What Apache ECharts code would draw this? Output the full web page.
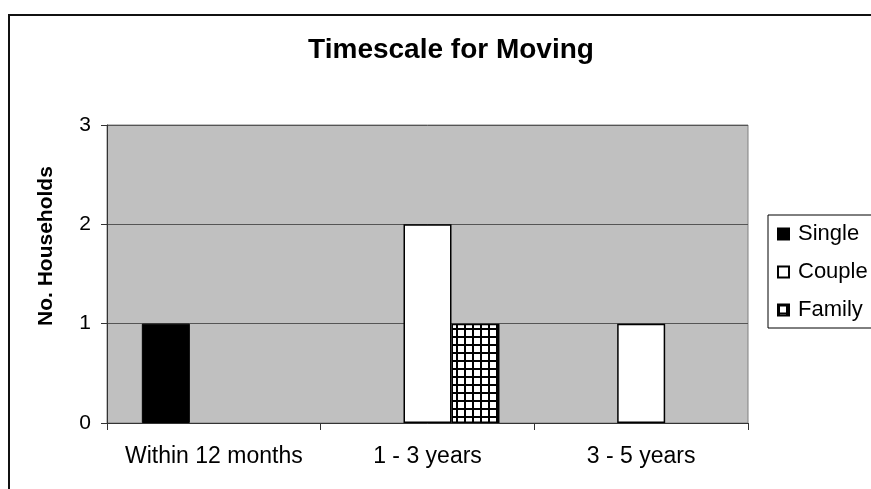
<!DOCTYPE html>
<html>
<head>
<meta charset="utf-8">
<script src="https://cdn.jsdelivr.net/npm/echarts@6/dist/echarts.min.js"></script>
<style>
    html, body { margin: 0; padding: 0; background: #fff; }
    #chart { width: 871px; height: 489px; }
</style>
</head>
<body>
<div id="chart"></div>
<script>
    // data
    const categories = ['Within 12 months', '1 - 3 years', '3 - 5 years']
    const single = [1, null, null]
    const couple = [null, 2, 1]
    const family = [null, 1, null]
    const yTicks = [0, 1, 2, 3]

    // small grid hatch for the Family bars
    function gridPattern() {
        let c = document.createElement('canvas')
        c.width = 8
        c.height = 8
        let ctx = c.getContext('2d')
        ctx.fillStyle = '#fff'
        ctx.fillRect(0, 0, 8, 8)
        ctx.fillStyle = '#000'
        ctx.fillRect(0, 0, 8, 2)
        ctx.fillRect(0, 0, 2, 8)
        return c
    }

    const font = 'Liberation Sans, Arial, sans-serif'
    let myChart = echarts.init(document.getElementById('chart'))
    myChart.setOption({
        backgroundColor: '#fff',
        animation: false,
        textStyle: {fontFamily: font, color: '#000'},
        title: {
            text: 'Timescale for Moving',
            left: 446,
            top: 31,
            textAlign: 'center',
            textStyle: {fontSize: 28, fontWeight: 'bold', color: '#000', fontFamily: font}
        },
        graphic: [
            {
                type: 'rect',
                shape: {x: 9, y: 15, width: 900, height: 500},
                style: {fill: null, stroke: '#111', lineWidth: 2},
                silent: true
            },
            {
                // y axis title, reads bottom to top
                type: 'text',
                x: 46,
                y: 326,
                rotation: Math.PI / 2,
                style: {
                    text: 'No. Households',
                    font: 'bold 21px ' + font,
                    fill: '#000',
                    align: 'left',
                    verticalAlign: 'middle'
                },
                silent: true
            }
        ],
        legend: {
            data: ['Single', 'Couple', 'Family'],
            icon: 'rect',
            orient: 'vertical',
            left: 768,
            top: 215,
            padding: [8, 40, 7, 9],
            itemWidth: 11,
            itemHeight: 11,
            itemGap: 16,
            borderColor: '#000',
            borderWidth: 1,
            backgroundColor: '#fff',
            textStyle: {fontSize: 22, color: '#000', fontFamily: font, padding: [0, 0, 0, 4]}
        },
        grid: {
            left: 107,
            right: 123,
            top: 125,
            bottom: 66,
            show: true,
            backgroundColor: '#c0c0c0',
            borderColor: '#808080',
            borderWidth: 1
        },
        xAxis: {
            type: 'category',
            data: categories,
            axisLine: {lineStyle: {color: '#333', width: 1}},
            axisTick: {show: true, length: 7, lineStyle: {color: '#333'}},
            axisLabel: {interval: 0, fontSize: 23, color: '#000', margin: 22, fontFamily: font}
        },
        yAxis: {
            type: 'value',
            min: yTicks[0],
            max: yTicks[yTicks.length - 1],
            interval: 1,
            axisLine: {show: true, lineStyle: {color: '#333', width: 1}},
            axisTick: {show: true, length: 6, lineStyle: {color: '#333'}},
            axisLabel: {fontSize: 21, color: '#000', margin: 16, fontFamily: font},
            splitLine: {lineStyle: {color: '#555', width: 1}}
        },
        series: [
            {
                name: 'Single',
                type: 'bar',
                barWidth: 48,
                barGap: '0%',
                data: single,
                itemStyle: {color: '#000', borderColor: '#000', borderWidth: 1}
            },
            {
                name: 'Couple',
                type: 'bar',
                barWidth: 48,
                barGap: '0%',
                data: couple,
                itemStyle: {color: '#fff', borderColor: '#000', borderWidth: 1.5}
            },
            {
                name: 'Family',
                type: 'bar',
                barWidth: 48,
                barGap: '0%',
                data: family,
                itemStyle: {color: {image: gridPattern(), repeat: 'repeat'}, borderColor: '#000', borderWidth: 1.5}
            }
        ]
    })
</script>
</body>
</html>
